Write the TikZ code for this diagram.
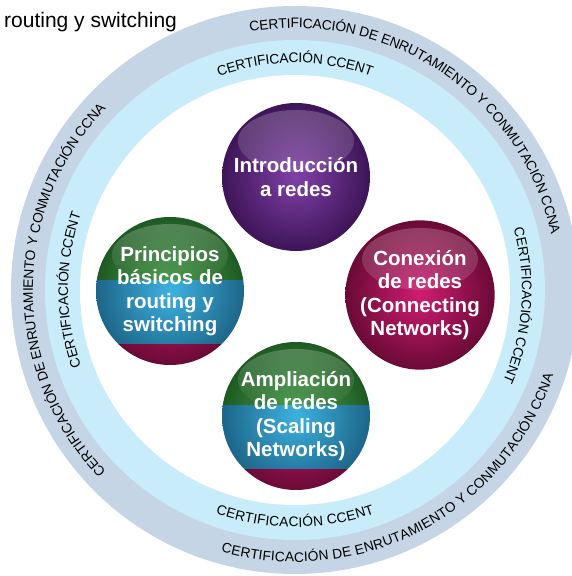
\documentclass[tikz,border=0pt]{standalone}
\usepackage{fontspec}
\setmainfont{Liberation Sans}
\setsansfont{Liberation Sans}
\usetikzlibrary{decorations.text}
\usetikzlibrary{fadings}

\definecolor{anillogris}{HTML}{C5D5E5}
\definecolor{anillocian}{HTML}{C8ECFA}
\definecolor{morado1}{HTML}{8040A8}
\definecolor{morado2}{HTML}{3E1558}
\definecolor{fucsia1}{HTML}{D01C72}
\definecolor{fucsia2}{HTML}{6A0A36}
\definecolor{verde1}{HTML}{4AA04C}
\definecolor{verde2}{HTML}{1E5A22}
\definecolor{azul1}{HTML}{3DB2E0}
\definecolor{azul2}{HTML}{1D6689}

\tikzfading[name=brillofade, top color=transparent!78, bottom color=transparent!100]

\newcommand\anillo{\fontsize{13.8}{15}\selectfont}
\newcommand\brillo{\fill[white, path fading=brillofade] ([yshift=36pt]path picture bounding box.center) ellipse [x radius=58, y radius=31];}

\begin{document}
\begin{tikzpicture}[x=1pt, y=1pt,
    every node/.style={inner sep=0pt},
    bola/.style={circle, minimum size=148pt, align=center, text=white,
      font=\fontsize{20.5}{23.5}\selectfont\bfseries},
    lisa/.style 2 args={bola, inner color=#1, outer color=#2, path picture={\brillo}},
    bandas/.style={bola, path picture={
        \coordinate (m) at (path picture bounding box.center);
        \begin{scope}
          \clip ([shift={(-80,10)}]m) rectangle ([shift={(80,80)}]m);
          \shade[inner color=verde1, outer color=verde2] (m) circle (74);
        \end{scope}
        \begin{scope}
          \clip ([shift={(-80,-54)}]m) rectangle ([shift={(80,10)}]m);
          \shade[inner color=azul1, outer color=azul2] (m) circle (74);
        \end{scope}
        \begin{scope}
          \clip ([shift={(-80,-80)}]m) rectangle ([shift={(80,-54)}]m);
          \shade[inner color=fucsia1, outer color=fucsia2] (m) circle (74);
        \end{scope}
        \brillo}},
    anillotexto/.style={decorate, decoration={text along path, text align=center,
        raise=-5pt, text={|\anillo|#1}}}]
  \useasboundingbox (0,0) rectangle (571,576);

  % Anillos
  \coordinate (c) at (295,286);
  \fill[anillogris] (c) circle (284);
  \fill[anillocian] (c) circle (250);
  \fill[white] (c) circle (215);

  % Textos de los anillos
  \path[anillotexto={CERTIFICACIÓN DE ENRUTAMIENTO Y CONMUTACIÓN CCNA}]
    ([shift={(116:267)}]c) arc[start angle=116, end angle=-4, radius=267];
  \path[anillotexto={CERTIFICACIÓN DE ENRUTAMIENTO Y CONMUTACIÓN CCNA}]
    ([shift={(240:267)}]c) arc[start angle=240, end angle=120, radius=267];
  \path[anillotexto={CERTIFICACIÓN DE ENRUTAMIENTO Y CONMUTACIÓN CCNA}]
    ([shift={(238:267)}]c) arc[start angle=238, end angle=358, radius=267];
  \path[anillotexto={CERTIFICACIÓN CCENT}]
    ([shift={(150:232)}]c) arc[start angle=150, end angle=30, radius=232];
  \path[anillotexto={CERTIFICACIÓN CCENT}]
    ([shift={(240:232)}]c) arc[start angle=240, end angle=120, radius=232];
  \path[anillotexto={CERTIFICACIÓN CCENT}]
    ([shift={(56:232)}]c) arc[start angle=56, end angle=-64, radius=232];
  \path[anillotexto={CERTIFICACIÓN CCENT}]
    ([shift={(210:232)}]c) arc[start angle=210, end angle=330, radius=232];

  % Titulo
  \node[anchor=base west, font=\fontsize{21}{24}\selectfont] (titulo) at (4,548) {routing y switching};

  % Cursos
  \node[lisa={morado1}{morado2}] (intro) at (296,399) {Introducción\\a redes};
  \node[bandas] (princ) at (170,285) {Principios\\básicos de\\routing y\\switching};
  \node[lisa={fucsia1}{fucsia2}] (conex) at (420,281) {Conexión\\de redes\\(Connecting\\Networks)};
  \node[bandas] (ampl) at (296,160) {Ampliación\\de redes\\(Scaling\\Networks)};
\end{tikzpicture}
\end{document}
